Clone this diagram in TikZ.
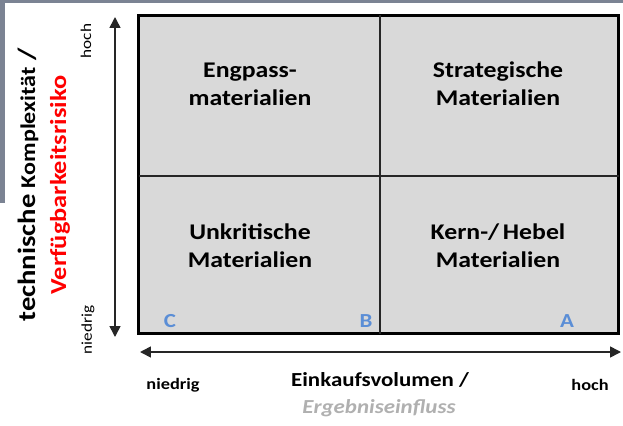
\documentclass[tikz,border=0pt]{standalone}
\usepackage{fontspec}
\setmainfont{Carlito}[FakeStretch=1.15]
\usetikzlibrary{arrows.meta}
\definecolor{boxfill}{HTML}{D9D9D9}
\definecolor{slidegray}{HTML}{7B8393}
\definecolor{letterblue}{HTML}{5B8ED6}
\definecolor{riskred}{HTML}{FF0000}
\definecolor{softgray}{HTML}{B0B0B0}
\tikzset{
  quad/.style={align=center, font=\fontsize{22.5}{28}\selectfont\bfseries, text=black, inner sep=0pt},
  cls/.style={font=\fontsize{20}{24}\selectfont\bfseries, text=letterblue, inner sep=0pt},
  tick/.style={font=\fontsize{15}{17}\selectfont, inner sep=0pt},
  axistitle/.style={font=\fontsize{20}{24}\selectfont\bfseries, inner sep=0pt},
  axisarrow/.style={line width=1.6pt, draw=black!85, {Triangle[length=11pt,width=11pt]}-{Triangle[length=11pt,width=11pt]}}
}
\begin{document}
\begin{tikzpicture}[x=1bp,y=1bp]
\useasboundingbox (0,0) rectangle (623,425);
% slide background remnants
\fill[slidegray] (0,422) rectangle (623,425);
\fill[slidegray] (0,222) rectangle (5,425);
% matrix
\draw[line width=3bp, fill=boxfill] (138.5,91.5) rectangle (618.5,409.5);
\coordinate (vt) at (380,409.5);
\coordinate (vb) at (380,91.5);
\coordinate (hl) at (138.5,249);
\coordinate (hr) at (618.5,249);
\draw[line width=2bp, draw=black!85] (vt) -- (vb);
\draw[line width=2bp, draw=black!85] (hl) -- (hr);
% quadrant labels
\node[quad] (q1) at (250,341) {Engpass-\\materialien};
\node[quad] (q2) at (498,341) {Strategische\\Materialien};
\node[quad] (q3) at (250,179) {Unkritische\\Materialien};
\node[quad] (q4) at (498,179) {Kern-/\,Hebel\\Materialien};
\node[cls] (c) at (170,104) {C};
\node[cls] (b) at (366,104) {B};
\node[cls] (a) at (567,104) {A};
% axes
\coordinate (ytop) at (115,408);
\coordinate (ybot) at (115,88);
\draw[axisarrow] (ybot) -- (ytop);
\coordinate (xl) at (140,73);
\coordinate (xr) at (621,73);
\draw[axisarrow] (xl) -- (xr);
% y-axis labels
\node[tick, rotate=90] (yhoch) at (86,384) {hoch};
\node[tick, rotate=90] (yniedrig) at (88,95) {niedrig};
\node[axistitle, font=\fontsize{25}{28}\selectfont\bfseries, rotate=90] (ytitle1) at (28,240) {technische {\fontsize{21}{24}\selectfont Komplexität} /};
\node[axistitle, font=\fontsize{23}{26}\selectfont\bfseries, rotate=90, text=riskred] (ytitle2) at (60,240) {Verfügbarkeitsrisiko};
% x-axis labels
\node[tick, font=\fontsize{16}{18}\selectfont\bfseries] (xniedrig) at (173,40) {niedrig};
\node[tick, font=\fontsize{16}{18}\selectfont\bfseries] (xhoch) at (590,40) {hoch};
\node[axistitle] (xtitle1) at (380,45) {Einkaufsvolumen /};
\node[axistitle, font=\fontsize{20}{24}\selectfont\bfseries\itshape, text=softgray] (xtitle2) at (379,17) {Ergebniseinfluss};
\end{tikzpicture}
\end{document}
